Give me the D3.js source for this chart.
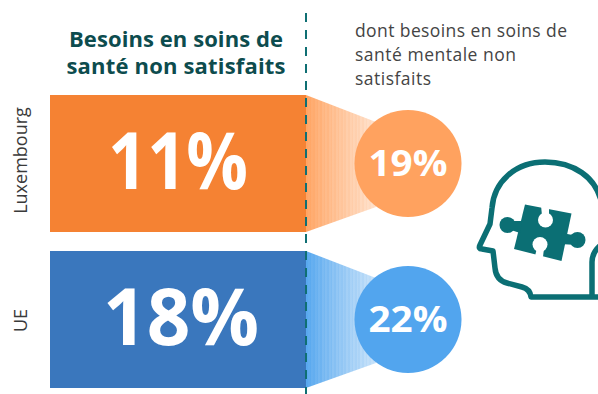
<!DOCTYPE html>
<html><head><meta charset="utf-8">
<script src="https://cdn.jsdelivr.net/npm/d3@7"></script>
<style>html,body{margin:0;padding:0;background:#fff}svg{display:block}text{font-family:"Open Sans",sans-serif}</style>
</head><body><svg id="c" width="598" height="394"></svg>
<script>
const categories = ["Luxembourg", "UE"];
const totalValues = [11, 18];
const mentalValues = [19, 22];
const barColors = ["#f58233", "#3a77bd"];
const circleColors = ["#ffa25f", "#52a5ee"];
const titleLines = ["Besoins en soins de", "santé non satisfaits"];
const subLines = ["dont besoins en soins de", "santé mentale non", "satisfaits"];
const stripeOpacity = [.96,.92,.94,.88,.9,.84,.87,.8,.84,.76,.8,.73,.77,.7,.74,.66,.7,.63,.67,.6,.63,.56,.6,.53,.57,.5,.54,.47,.51,.44,.48,.41,.45,.38,.42,.36,.39,.34,.36,.32];

const svg = d3.select("#c");
const defs = svg.append("defs");
const y = d3.scaleBand().domain(categories).range([95, 388]).paddingInner(19 / 156).paddingOuter(0);
const x0 = 50, x1 = 306, cx = 408, r = 53.5;
const bw = y.bandwidth();
const stripeX = d3.scaleLinear().domain([0, stripeOpacity.length]).range([0, 1]);

categories.forEach((c, i) => {
  const g = defs.append("linearGradient").attr("id", "g" + i);
  stripeOpacity.forEach((o, k) => {
    g.append("stop").attr("offset", stripeX(k)).attr("stop-color", circleColors[i]).attr("stop-opacity", o);
    g.append("stop").attr("offset", stripeX(k + 1)).attr("stop-color", circleColors[i]).attr("stop-opacity", o);
  });
});

const rows = svg.selectAll("g.row").data(categories).join("g").attr("class", "row");
rows.append("rect").attr("x", x0).attr("y", d => y(d)).attr("width", x1 - x0).attr("height", bw)
  .attr("fill", (d, i) => barColors[i]);
rows.append("path").attr("fill", (d, i) => `url(#g${i})`)
  .attr("d", d => {
    const t = y(d), b = t + bw;
    return `M${x1},${t}L${x1 + 70},${t + 27}L${x1 + 70},${b - 25}L${x1},${b}Z`;
  });
rows.append("circle").attr("cx", cx).attr("cy", d => y(d) + bw / 2).attr("r", r)
  .attr("fill", (d, i) => circleColors[i]);
rows.append("text").attr("x", (d, i) => i === 0 ? 178 : 181).attr("y", d => y(d) + bw / 2 + 25)
  .attr("text-anchor", "middle").attr("fill", "#fff").attr("font-weight", 700).attr("font-size", 78)
  .attr("textLength", (d, i) => i === 0 ? 140 : 156).attr("lengthAdjust", "spacingAndGlyphs")
  .text((d, i) => totalValues[i] + "%");
rows.append("text").attr("x", cx).attr("y", d => y(d) + bw / 2 + 12)
  .attr("text-anchor", "middle").attr("fill", "#fff").attr("font-weight", 700).attr("font-size", 35)
  .attr("textLength", 79).attr("lengthAdjust", "spacingAndGlyphs")
  .text((d, i) => mentalValues[i] + "%");
rows.append("text").attr("transform", (d, i) => `translate(27,${y(d) + bw / 2 - (i === 0 ? 3 : -1)}) rotate(-90)`)
  .attr("text-anchor", "middle").attr("fill", "#3a3a3a").attr("font-size", 18)
  .text(d => d);

svg.append("line").attr("x1", x1).attr("x2", x1).attr("y1", 13).attr("y2", 394)
  .attr("stroke", "#0f6f73").attr("stroke-width", 2).attr("stroke-dasharray", "9 8");

svg.append("g").selectAll("text").data(titleLines).join("text")
  .attr("x", 176).attr("y", (d, i) => 47 + i * 26.5).attr("text-anchor", "middle")
  .attr("fill", "#0d4c4e").attr("font-weight", 700).attr("font-size", 22).attr("textLength", (d, i) => i === 0 ? 214 : 219)
  .text(d => d);
svg.append("g").selectAll("text").data(subLines).join("text")
  .attr("x", 355).attr("y", (d, i) => 37 + i * 24.2)
  .attr("fill", "#444").attr("font-size", 17.5).attr("textLength", (d, i) => [212, 161, 76][i])
  .text(d => d);

const teal = "#0b6f74";
const icon = svg.append("g");
icon.append("path").attr("fill", "none").attr("stroke", teal).attr("stroke-width", 5.5)
  .attr("stroke-linejoin", "round").attr("stroke-linecap", "round")
  .attr("d", "M602,205C597,176 572,162 545,162C515,162 494,182 492,208L490,224L480,245Q478,249 482,249L493,251L495,268Q496,280 507,283L522,287Q530,289 531,297L600,297M592,297L592,262Q592,252 602,244");
icon.append("path").attr("fill", teal).attr("d", "M525,204.500L571.500,213.500L561.500,261L514,249Z");
icon.append("circle").attr("cx", 507.500).attr("cy", 225).attr("r", 8).attr("fill", teal);
icon.append("circle").attr("cx", 577.500).attr("cy", 240).attr("r", 8).attr("fill", teal);
icon.append("path").attr("fill", teal).attr("d", "M508,221L522,221L520,233L508,229Z");
icon.append("path").attr("fill", teal).attr("d", "M562,233L578,236L577,245L560,244Z");
icon.append("circle").attr("cx", 545.500).attr("cy", 220).attr("r", 7.500).attr("fill", "#fff");
icon.append("circle").attr("cx", 540).attr("cy", 244.500).attr("r", 7.500).attr("fill", "#fff");
icon.append("path").attr("fill", "#fff").attr("d", "M541,205L549,206.500L549,216L542,216Z");
icon.append("path").attr("fill", "#fff").attr("d", "M537,248L544,248L543,257L535,256Z");
</script></body></html>
